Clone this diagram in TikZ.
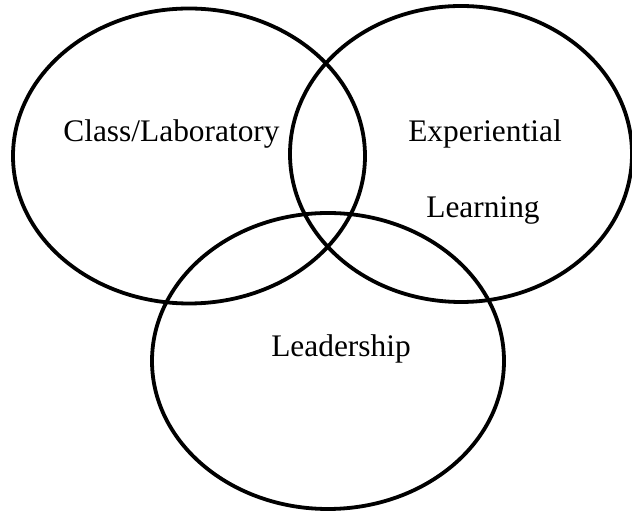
\documentclass[tikz,border=0pt]{standalone}
\usepackage{fontspec}
\setmainfont{Liberation Serif}
\usetikzlibrary{shapes.geometric}
\tikzset{
    area/.style={ellipse, draw, line width=1.9pt, inner sep=0pt},
    areatxt/.style={font=\fontsize{15.7}{19}\selectfont, inner sep=0pt, anchor=base},
}

\begin{document}
\begin{tikzpicture}[x=0.5pt, y=-0.5pt]
\useasboundingbox (0,0) rectangle (632,512);

% -- the three overlapping areas --
\node[area, minimum width=176pt, minimum height=147.5pt] (class) at (189,156) {};
\node[area, minimum width=171pt, minimum height=148pt] (exper) at (461,154) {};
\node[area, minimum width=176pt, minimum height=148pt] (lead) at (328,361) {};

% -- labels (placed on their baselines) --
\node[areatxt] (classtxt) at (171.5,142) {Class/Laboratory};
\node[areatxt] (expertxt) at (485,142) {Experiential};
\node[areatxt] (learntxt) at (483,218) {Learning};
\node[areatxt] (leadtxt) at (341,357) {Leadership};

\end{tikzpicture}
\end{document}
